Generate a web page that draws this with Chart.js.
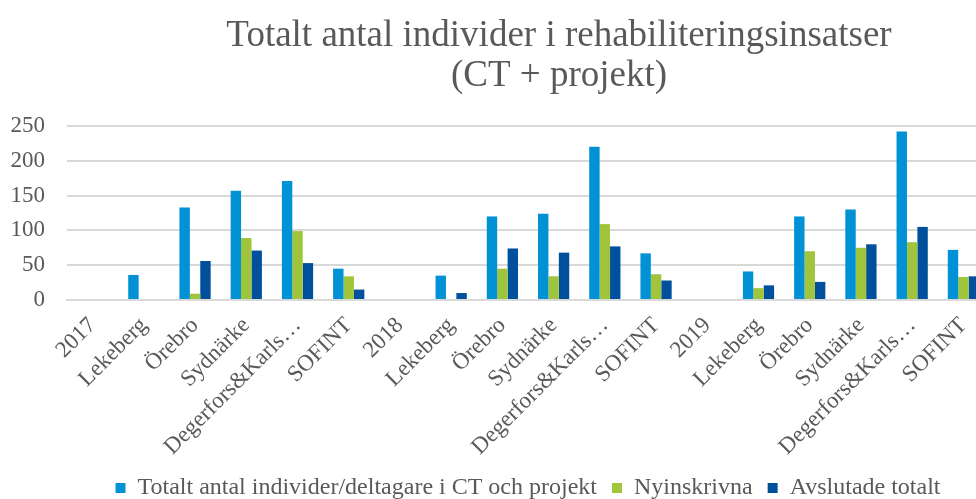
<!DOCTYPE html>
<html>
<head>
<meta charset="utf-8">
<script src="https://cdn.jsdelivr.net/npm/chart.js@4"></script>
<style>
  html, body { margin: 0; padding: 0; overflow: hidden; background: #fff; }
</style>
</head>
<body>
<canvas id="rehabChart" width="1108" height="499"></canvas>
<script>
// Categories (year headers followed by the units)
const categories = [
    '2017', 'Lekeberg', 'Örebro', 'Sydnärke', 'Degerfors&Karlskoga', 'SOFINT',
    '2018', 'Lekeberg', 'Örebro', 'Sydnärke', 'Degerfors&Karlskoga', 'SOFINT',
    '2019', 'Lekeberg', 'Örebro', 'Sydnärke', 'Degerfors&Karlskoga', 'SOFINT'
];

// Series values
const totalt = [null, 36, 133, 157, 171, 45, null, 35, 120, 124, 220, 67, null, 41, 120, 130, 242, 72];
const nyinskrivna = [null, null, 9, 89, 99, 34, null, null, 45, 34, 109, 37, null, 17, 70, 75, 83, 33];
const avslutade = [null, null, 56, 71, 53, 15, null, 10, 74, 68, 77, 28, null, 21, 26, 80, 105, 34];

const yTicks = [0, 50, 100, 150, 200, 250];

const fontFamily = '"Liberation Serif", "Times New Roman", serif';
const textColor = '#595959';

const ctx = document.getElementById('rehabChart').getContext('2d');
const rehabChart = new Chart(ctx, {
    type: 'bar',
    data: {
        labels: categories,
        datasets: [{
            label: 'Totalt antal individer/deltagare i CT och projekt',
            data: totalt,
            backgroundColor: '#0092d5'
        }, {
            label: 'Nyinskrivna',
            data: nyinskrivna,
            backgroundColor: '#a0c43b'
        }, {
            label: 'Avslutade totalt',
            data: avslutade,
            backgroundColor: '#00509e'
        }]
    },
    options: {
        responsive: false,
        animation: false,
        layout: { padding: { left: 10, right: 0, top: 0, bottom: -11 } },
        datasets: {
            bar: { categoryPercentage: 0.61, barPercentage: 1 }
        },
        plugins: {
            title: {
                display: true,
                text: ['Totalt antal individer i rehabiliteringsinsatser', '(CT + projekt)'],
                color: textColor,
                font: { family: fontFamily, size: 37, weight: 'normal', lineHeight: 1.08 },
                padding: { top: 16, bottom: 30 }
            },
            legend: {
                position: 'bottom',
                fullSize: false,
                labels: {
                    color: textColor,
                    font: { family: fontFamily, size: 24 },
                    boxWidth: 10,
                    boxHeight: 10,
                    padding: 15
                }
            },
            tooltip: { enabled: false }
        },
        scales: {
            x: {
                grid: { display: false },
                border: { color: '#d9d9d9', width: 2 },
                afterFit: axis => {
                    axis.paddingLeft = 0;
                    axis.paddingRight = 0;
                    axis.height = 161;
                },
                ticks: {
                    autoSkip: false,
                    maxRotation: 45,
                    minRotation: 45,
                    padding: 4,
                    color: textColor,
                    font: { family: fontFamily, size: 23 },
                    callback: function (value) {
                        const label = this.getLabelForValue(value);
                        return label.length > 16 ? label.slice(0, 15) + '…' : label;
                    }
                }
            },
            y: {
                min: 0,
                max: 250,
                afterBuildTicks: axis => { axis.ticks = yTicks.map(v => ({ value: v })); },
                afterFit: axis => { axis.width = 57; },
                border: { display: false },
                grid: { color: '#d9d9d9', lineWidth: 2, drawTicks: false },
                ticks: {
                    padding: 22,
                    color: textColor,
                    font: { family: fontFamily, size: 23 }
                }
            },
            // empty right-hand axis: the reference plot runs past the right edge
            yRight: {
                position: 'right',
                display: true,
                grid: { display: false },
                border: { display: false },
                ticks: { display: false },
                afterFit: axis => { axis.width = 119; }
            }
        }
    }
});
</script>
</body>
</html>
